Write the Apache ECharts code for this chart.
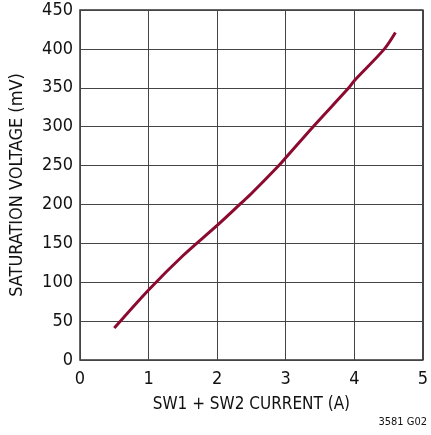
<!DOCTYPE html>
<html><head><meta charset="utf-8">
<script src="https://cdn.jsdelivr.net/npm/echarts@6/dist/echarts.min.js"></script>
<style>html,body{margin:0;padding:0;background:#fff}#c{width:431px;height:435px}</style>
</head><body><div id="c"></div>
<script>
const currentA = [0.5, 1.0, 1.5, 2.0, 2.33, 2.5, 2.9, 3.0, 3.4, 3.92, 4.0, 4.44, 4.6];
const satVoltage = [41, 90, 134, 173, 200, 214, 250, 260, 300, 350, 359, 400, 421];
const xTicks = [0, 1, 2, 3, 4, 5];
const yTicks = [0, 50, 100, 150, 200, 250, 300, 350, 400, 450];
const FONT = '"DejaVu Sans Condensed","DejaVu Sans",sans-serif';
const chart = echarts.init(document.getElementById('c'), null, {renderer: 'canvas'});
chart.setOption({
  animation: false,
  grid: {left: 78, right: 2, top: 10, bottom: 75, show: true, borderColor: '#333', borderWidth: 1.5},
  xAxis: {
    type: 'value', min: xTicks[0], max: xTicks[xTicks.length - 1], interval: 1,
    name: 'SW1 + SW2 CURRENT (A)', nameLocation: 'middle', nameGap: 36,
    nameTextStyle: {fontFamily: FONT, fontSize: 17, color: '#111'},
    axisLine: {show: false}, axisTick: {show: false},
    axisLabel: {fontFamily: FONT, fontSize: 18, color: '#111', margin: 10},
    splitLine: {lineStyle: {color: '#444', width: 1}}
  },
  yAxis: {
    type: 'value', min: yTicks[0], max: yTicks[yTicks.length - 1], interval: 50,
    name: 'SATURATION VOLTAGE (mV)', nameLocation: 'middle', nameGap: 54,
    nameTextStyle: {fontFamily: FONT, fontSize: 18, color: '#111'},
    axisLine: {show: false}, axisTick: {show: false},
    axisLabel: {fontFamily: FONT, fontSize: 18, color: '#111', margin: 7},
    splitLine: {lineStyle: {color: '#444', width: 1}}
  },
  graphic: [{type: 'text', right: 4, top: 417, style: {text: '3581 G02', font: '11px ' + FONT, fill: '#111'}}],
  series: [{
    type: 'line', smooth: 0.3, showSymbol: false,
    data: currentA.map((x, i) => [x, satVoltage[i]]),
    lineStyle: {color: '#8c0a2f', width: 3}
  }]
});
</script></body></html>
